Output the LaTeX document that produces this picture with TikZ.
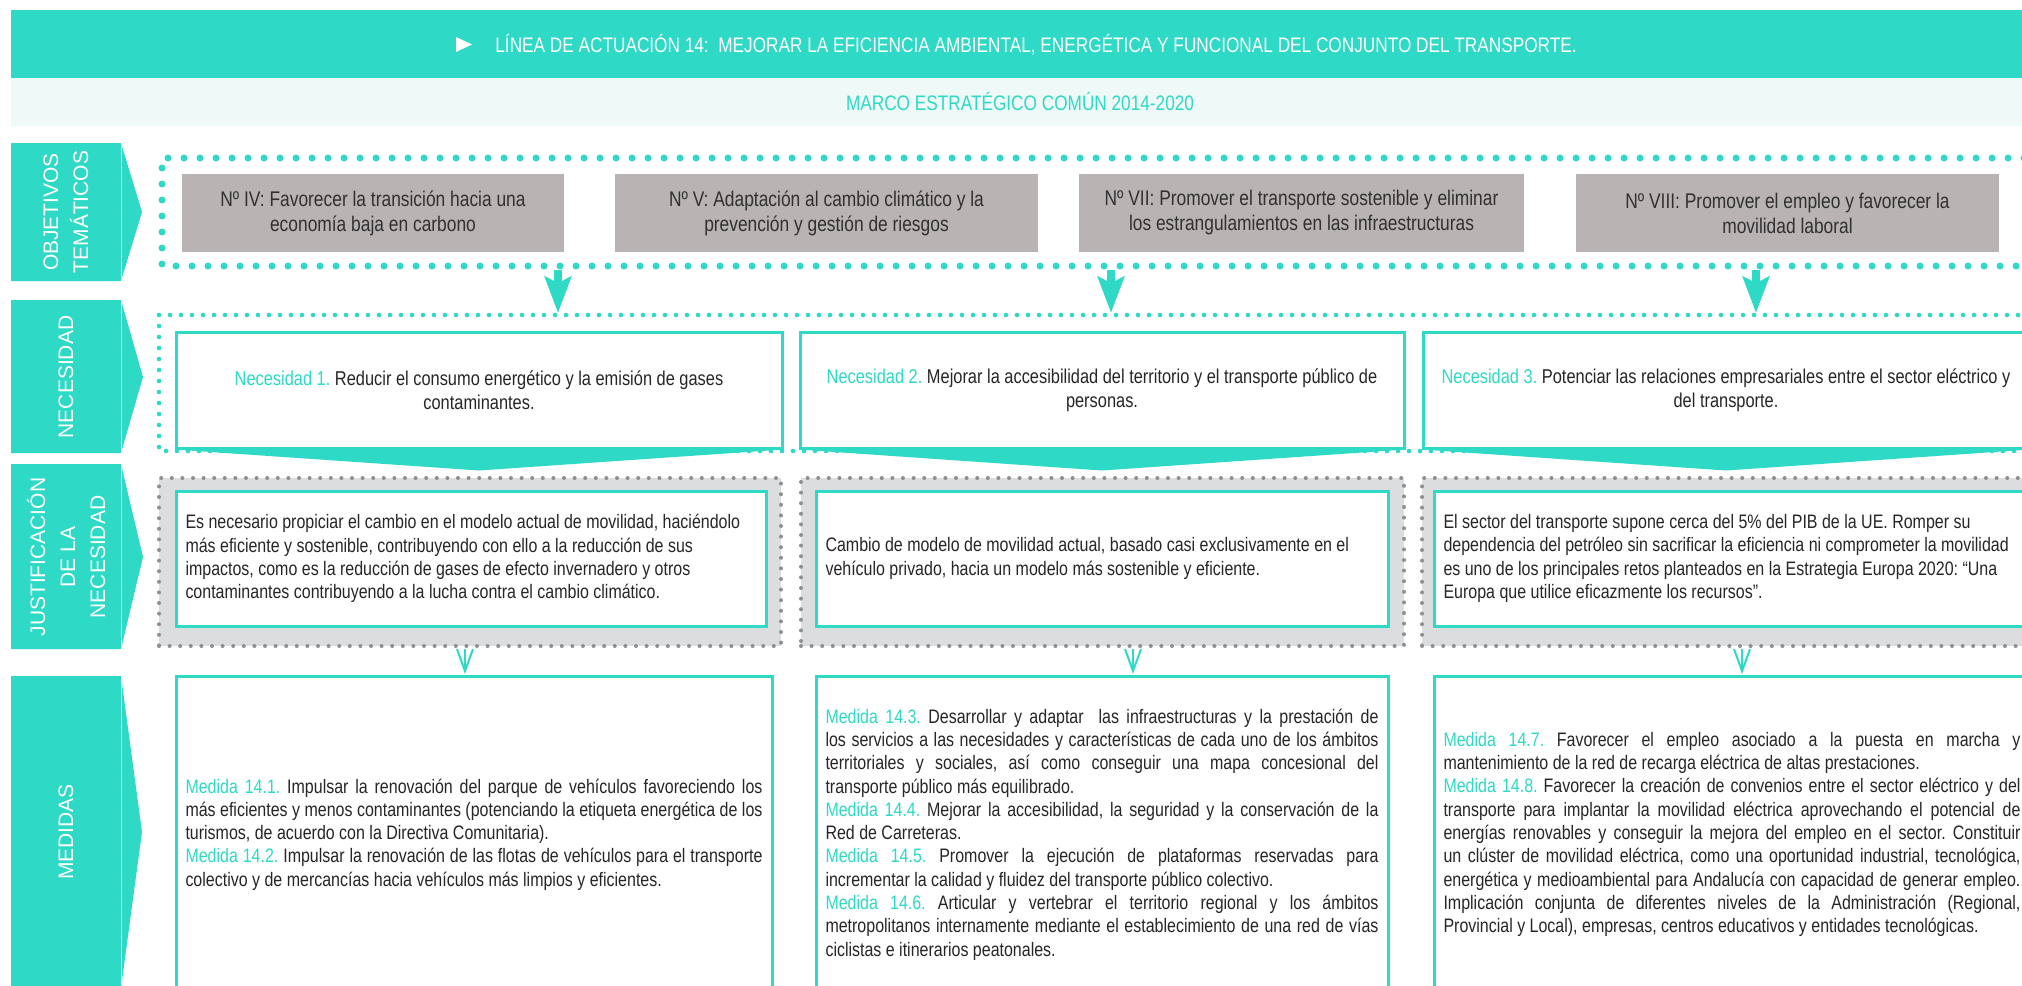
\documentclass[tikz,border=0pt]{standalone}
\usepackage{fontspec}
\setmainfont{Liberation Sans}
\newfontfamily\narrowfont[FakeStretch=0.82]{Liberation Sans}
\usetikzlibrary{arrows.meta,positioning}
\definecolor{band}{HTML}{2ED9C5}
\definecolor{bandlight}{HTML}{EFFAF8}
\definecolor{objfill}{HTML}{B9B4B3}
\definecolor{objink}{HTML}{303030}
\definecolor{justfill}{HTML}{DCDDDF}
\definecolor{justdot}{HTML}{8E8F91}
\definecolor{ink}{HTML}{262626}
\frenchspacing
\newcommand{\bxfont}{\narrowfont\fontsize{9.75}{11.65}\selectfont}
\newcommand{\ncfont}{\narrowfont\fontsize{10}{12}\selectfont}
\newcommand{\tealtag}[1]{\textcolor{band}{#1}}
\newcommand{\jline}[1]{\hbox to\hsize{#1}}
\tikzset{
  % ---- header bands ----------------------------------------------
  hdtext/.style    = {font=\narrowfont\fontsize{10.5}{12.6}\selectfont,
                      text=white, inner sep=0pt},
  marcotext/.style = {font=\narrowfont\fontsize{10.5}{12.6}\selectfont,
                      text=band, inner sep=0pt},
  % ---- row tabs --------------------------------------------------
  rowtab/.style    = {fill=band},
  tabcut/.style    = {draw=white, line width=.4pt},
  tabtext/.style   = {font=\fontsize{10.5}{15}\selectfont, text=white,
                      align=center, rotate=90, inner sep=0pt},
  % ---- objetivos -------------------------------------------------
  objbox/.style    = {fill=objfill, inner sep=0pt, minimum height=39pt,
                      align=center, text=objink,
                      font=\narrowfont\fontsize{10.6}{12.5}\selectfont},
  bigdots/.style   = {draw=band, line width=3.5pt, line cap=round,
                      dash pattern=on 0pt off 8pt},
  objarr/.style    = {draw=band, line width=4pt,
                      -{Stealth[length=18pt, width=13pt, inset=3pt]}},
  % ---- necesidad -------------------------------------------------
  necbox/.style    = {draw=band, line width=1.5pt, fill=white,
                      minimum height=58pt, inner sep=0pt, align=center,
                      text=ink, font=\ncfont},
  smalldots/.style = {draw=band, line width=2.3pt, line cap=round,
                      dash pattern=on 0pt off 5.5pt},
  necwedge/.style  = {fill=band},
  % ---- justificacion ---------------------------------------------
  jframe/.style    = {fill=justfill, draw=justdot, line width=2pt,
                      line cap=round, dash pattern=on 0pt off 5.3pt,
                      minimum height=84pt, inner sep=0pt},
  jbox/.style      = {draw=band, line width=1.5pt, fill=white,
                      minimum height=67.5pt, inner xsep=4.75pt,
                      inner ysep=0pt, align=flush left, text=ink,
                      font=\bxfont},
  vtip/.style      = {draw=band, line width=1pt,
                      -{Straight Barb[length=11pt, width=8pt]}},
  % ---- medidas ---------------------------------------------------
  medbox/.style    = {draw=band, line width=1.5pt, fill=white,
                      minimum height=158.5pt, inner xsep=4.75pt,
                      inner ysep=0pt, text=ink, font=\bxfont},
}

\begin{document}
\begin{tikzpicture}[x=0.5pt, y=-0.5pt]
  \fill[white] (0,0) rectangle (2022,985);
  \useasboundingbox (0,0) rectangle (2022,985);
  % header
  \fill[band] (11,10) rectangle (2022,78);
  \fill[bandlight] (11,78) rectangle (2022,126);
  \fill[white] (456,37) -- (472,44.5) -- (456,52) -- cycle;
  \node[hdtext, anchor=base west] (title) at (495,52) {LÍNEA DE ACTUACIÓN 14:\ \ MEJORAR LA EFICIENCIA AMBIENTAL, ENERGÉTICA Y FUNCIONAL DEL CONJUNTO DEL TRANSPORTE.};
  \node[marcotext, anchor=base] (marco) at (1020,110) {MARCO ESTRATÉGICO COMÚN 2014-2020};
  % row tabs
  \fill[rowtab] (11,143) -- (121,143) -- (142,212) -- (121,281) -- (11,281) -- cycle;
  \fill[rowtab] (11,300) -- (121,300) -- (143,377) -- (121,453) -- (11,453) -- cycle;
  \fill[rowtab] (11,464) -- (121,464) -- (143,557) -- (121,649) -- (11,649) -- cycle;
  \fill[rowtab] (11,676) -- (121,676) -- (142,832) -- (121,988) -- (11,988) -- cycle;
  \draw[tabcut] (121,143) -- (121,281) (121,300) -- (121,453)
                (121,464) -- (121,649) (121,676) -- (121,988);
  \node[tabtext] (tObj) at (66,212) {OBJETIVOS\\TEMÁTICOS};
  \node[tabtext] (tNec) at (66,377) {NECESIDAD};
  \node[tabtext] (tJus) at (66,557) {JUSTIFICACIÓN\\DE LA\\NECESIDAD};
  \node[tabtext] (tMed) at (66,832) {MEDIDAS};
  % objetivos
  \draw[bigdots] (2040,158) -- (162,158) -- (162,266) -- (2040,266);
  \node[objbox, minimum width=191pt] (o1) at (373,213) {Nº IV: Favorecer la transición hacia una\\economía baja en carbono};
  \node[objbox, minimum width=211.5pt] (o2) at (826.5,213) {Nº V: Adaptación al cambio climático y la\\prevención y gestión de riesgos};
  \node[objbox, minimum width=222.5pt] (o3) at (1301.5,213) {Nº VII: Promover el transporte sostenible y eliminar\\los estrangulamientos en las infraestructuras};
  \node[objbox, minimum width=211.5pt] (o4) at (1787.5,213) {Nº VIII: Promover el empleo y favorecer la\\movilidad laboral};
  % necesidad
  \draw[smalldots] (2040,315) -- (159,315) -- (159,451) -- (2040,451);
  \node[necbox, minimum width=303pt] (n1) at (479,390) {\tealtag{Necesidad 1.} Reducir el consumo energético y la emisión de gases\\contaminantes.};
  \node[necbox, minimum width=302pt] (n2) at (1102,390) {\tealtag{Necesidad 2.} Mejorar la accesibilidad del territorio y el transporte público de\\personas.};
  \node[necbox, minimum width=303pt] (n3) at (1726,390) {\tealtag{Necesidad 3.} Potenciar las relaciones empresariales entre el sector eléctrico y\\del transporte.};
  \foreach \n in {n1,n2,n3}
    \fill[necwedge] (\n.south west) -- (\n.south east) -- ([yshift=-10.5pt]\n.south) -- cycle;
  \foreach \x [count=\i] in {558,1111,1756} {
    \coordinate (oa\i) at (\x,270);
    \coordinate (ob\i) at (\x,313);
    \draw[objarr] (oa\i) -- (ob\i);
  }
  % justificacion
  \node[jframe, minimum width=311pt] (jf1) at (470,562) {};
  \node[jframe, minimum width=301.5pt] (jf2) at (1102.5,562) {};
  \node[jframe, minimum width=311pt] (jf3) at (1733,562) {};
  \node[jbox, minimum width=295pt, text width=285.5pt] (j1) at (471,558.5) {Es necesario propiciar el cambio en el modelo actual de movilidad, haciéndolo\\más eficiente y sostenible, contribuyendo con ello a la reducción de sus\\impactos, como es la reducción de gases de efecto invernadero y otros\\contaminantes contribuyendo a la lucha contra el cambio climático.};
  \node[jbox, minimum width=286pt, text width=276.5pt] (j2) at (1102,558.5) {Cambio de modelo de movilidad actual, basado casi exclusivamente en el\\vehículo privado, hacia un modelo más sostenible y eficiente.};
  \node[jbox, minimum width=309.5pt, text width=300pt] (j3) at (1743.5,558.5) {El sector del transporte supone cerca del 5\% del PIB de la UE. Romper su\\dependencia del petróleo sin sacrificar la eficiencia ni comprometer la movilidad\\es uno de los principales retos planteados en la Estrategia Europa 2020: “Una\\Europa que utilice eficazmente los recursos”.};
  \foreach \x [count=\i] in {465,1133,1742} {
    \coordinate (ja\i) at (\x,649);
    \coordinate (jb\i) at (\x,674);
    \draw[vtip] (ja\i) -- (jb\i);
  }
  % medidas
  \node[medbox, minimum width=298pt] (m1) at (474,834.5) {\vbox{\hsize=288.5pt
    \jline{\tealtag{Medida 14.1.} Impulsar la renovación del parque de vehículos favoreciendo los}
    \jline{más eficientes y menos contaminantes (potenciando la etiqueta energética de los}
    \hbox{turismos, de acuerdo con la Directiva Comunitaria).}
    \jline{\tealtag{Medida 14.2.} Impulsar la renovación de las flotas de vehículos para el transporte}
    \hbox{colectivo y de mercancías hacia vehículos más limpios y eficientes.}}};
  \node[medbox, minimum width=286pt] (m2) at (1102,834.5) {\vbox{\hsize=276.5pt
    \jline{\tealtag{Medida 14.3.} Desarrollar y adaptar\ \ las infraestructuras y la prestación de}
    \jline{los servicios a las necesidades y características de cada uno de los ámbitos}
    \jline{territoriales y sociales, así como conseguir una mapa concesional del}
    \hbox{transporte público más equilibrado.}
    \jline{\tealtag{Medida 14.4.} Mejorar la accesibilidad, la seguridad y la conservación de la}
    \hbox{Red de Carreteras.}
    \jline{\tealtag{Medida 14.5.} Promover la ejecución de plataformas reservadas para}
    \hbox{incrementar la calidad y fluidez del transporte público colectivo.}
    \jline{\tealtag{Medida 14.6.} Articular y vertebrar el territorio regional y los ámbitos}
    \jline{metropolitanos internamente mediante el establecimiento de una red de vías}
    \hbox{ciclistas e itinerarios peatonales.}}};
  \node[medbox, minimum width=298pt] (m3) at (1732,834.5) {\vbox{\hsize=288.5pt
    \jline{\tealtag{Medida 14.7.} Favorecer el empleo asociado a la puesta en marcha y}
    \hbox{mantenimiento de la red de recarga eléctrica de altas prestaciones.}
    \jline{\tealtag{Medida 14.8.} Favorecer la creación de convenios entre el sector eléctrico y del}
    \jline{transporte para implantar la movilidad eléctrica aprovechando el potencial de}
    \jline{energías renovables y conseguir la mejora del empleo en el sector. Constituir}
    \jline{un clúster de movilidad eléctrica, como una oportunidad industrial, tecnológica,}
    \jline{energética y medioambiental para Andalucía con capacidad de generar empleo.}
    \jline{Implicación conjunta de diferentes niveles de la Administración (Regional,}
    \hbox{Provincial y Local), empresas, centros educativos y entidades tecnológicas.}}};
\end{tikzpicture}
\end{document}
